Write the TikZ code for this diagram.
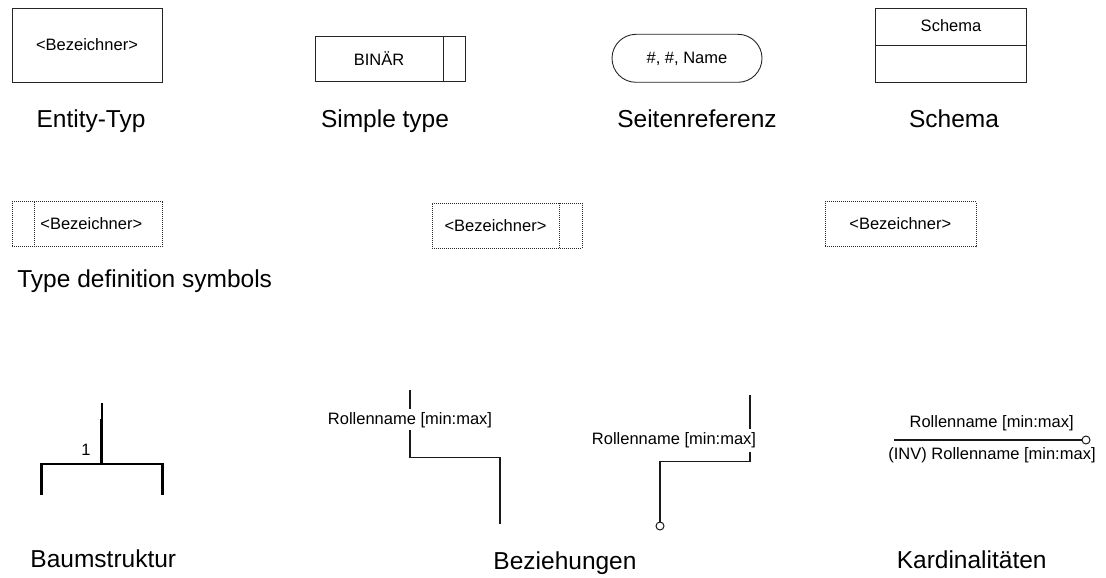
\documentclass[tikz,border=0pt]{standalone}
\usepackage{fontspec}
\setmainfont{Liberation Sans}
\usetikzlibrary{positioning, calc}

\tikzset{
  symbox/.style={draw=black!85, line width=0.9pt, inner sep=0pt},
  dotbox/.style={draw=black!85, line width=0.9pt, dash pattern=on 1pt off 1pt, inner sep=0pt},
  small/.style={font=\fontsize{16.5}{18}\selectfont, inner sep=0pt},
  caption/.style={font=\fontsize{24.5}{28}\selectfont, anchor=base, inner sep=0pt},
  rel/.style={line width=1.2pt, draw=black!90},
  tree/.style={line width=2.6pt, draw=black}
}

\begin{document}
\begin{tikzpicture}[x=1pt, y=-1pt]
        \useasboundingbox (0,0) rectangle (1106,578);

        % Row 1: entity, simple type, page reference, schema
        \node[symbox, minimum width=150pt, minimum height=74pt] (entity) at (87,45) {};
        \node[small] (entitytxt) at (87,45) {<Bezeichner>};
        \node[caption] (entitycap) at (91,127) {Entity-Typ};

        \node[symbox, minimum width=150pt, minimum height=45pt] (simple) at (390,58.5) {};
        \draw[symbox] (443,36) -- (443,81);
        \node[small] (simpletxt) at (379,58.5) {BINÄR};
        \node[caption] (simplecap) at (385,127) {Simple type};

        \node[symbox, rounded corners=24pt, minimum width=150pt, minimum height=48pt] (pageref) at (687,58.3) {};
        \node[small] (pagereftxt) at (687,59) {\#, \#, Name};
        \node[caption] (pagerefcap) at (697,127) {Seitenreferenz};

        \node[symbox, minimum width=151pt, minimum height=74pt] (schema) at (951,45) {};
        \draw[symbox] (schema.west |- 0,45) -- (schema.east |- 0,45);
        \node[small] (schematxt) at (951,26) {Schema};
        \node[caption] (schemacap) at (954,127) {Schema};

        % Row 2: type definition symbols
        \node[dotbox, minimum width=150pt, minimum height=45pt] (typeA) at (87,224.3) {};
        \draw[dotbox] (34.3,202) -- (34.3,247);
        \node[small] (typeAtxt) at (91.3,223.5) {<Bezeichner>};

        \node[dotbox, minimum width=150pt, minimum height=45pt] (typeB) at (507,225.8) {};
        \draw[dotbox] (559.3,203.3) -- (559.3,248.3);
        \node[small] (typeBtxt) at (495.5,225.8) {<Bezeichner>};

        \node[dotbox, minimum width=151pt, minimum height=45pt] (typeC) at (900.5,224.3) {};
        \node[small] (typeCtxt) at (900.3,223.5) {<Bezeichner>};

        \node[caption] (typecap) at (144.7,287) {Type definition symbols};

        % Row 3: tree structure
        \coordinate (stemtop) at (101.7,403);
        \coordinate (stemmid) at (101.7,419);
        \coordinate (fork) at (101.7,464);
        \coordinate (legL) at (41.7,495);
        \coordinate (legR) at (162.3,495);
        \draw[line width=1.8pt] (stemtop) -- (stemmid);
        \draw[line width=3.4pt] (stemmid) -- (fork);
        \draw[tree] (legL) -- (legL |- fork) -- (legR |- fork) -- (legR);
        \node[small] (treeone) at (86,449.5) {1};
        \node[caption] (treecap) at (103.3,567) {Baumstruktur};

        % Row 3: relationships
        \node[small] (roleA) at (410,420) {Rollenname [min:max]};
        \coordinate (roleAtop) at (410,390);
        \coordinate (roleAend) at (500,524);
        \draw[rel] (roleAtop) -- (410,408.5);
        \draw[rel] (410,430) -- (410,457.3) -- (roleAend |- 0,457.3) -- (roleAend);

        \node[small] (roleB) at (674,440) {Rollenname [min:max]};
        \coordinate (roleBtop) at (750,395);
        \node[circle, draw=black!90, line width=1pt, inner sep=0pt, minimum size=8pt] (roleBend) at (660,526) {};
        \draw[rel] (roleBtop) -- (750,428.5);
        \draw[rel] (750,451.7) -- (750,461.7) -- (roleBend |- 0,461.7) -- (roleBend.north);

        \node[caption] (relcap) at (565,569) {Beziehungen};

        % Row 3: cardinalities
        \coordinate (cardstart) at (894,440);
        \node[circle, draw=black!90, line width=1pt, inner sep=0pt, minimum size=8pt] (cardend) at (1086,440) {};
        \draw[rel] (cardstart) -- (cardend.west);
        \node[small] (cardtop) at (991.7,423.5) {Rollenname [min:max]};
        \node[small] (cardbot) at (992,455.5) {(INV) Rollenname [min:max]};
        \node[caption] (cardcap) at (971.7,568) {Kardinalitäten};
    \end{tikzpicture}
\end{document}
